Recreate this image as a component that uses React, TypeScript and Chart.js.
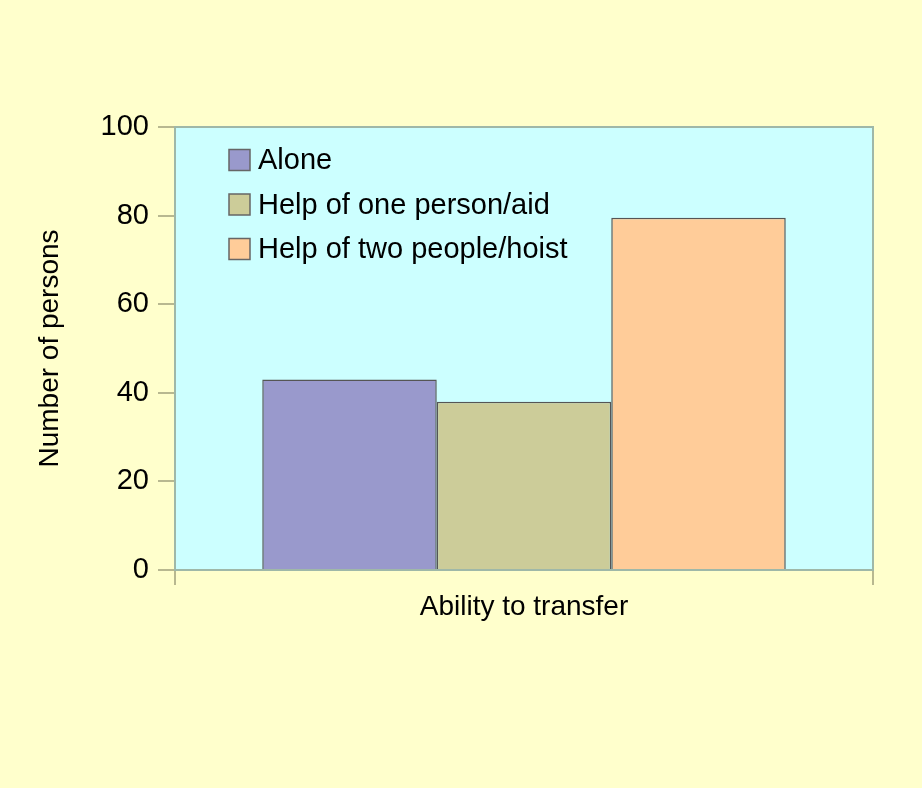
import React, { useEffect, useRef } from "react";
import { Chart, registerables } from "chart.js";

Chart.register(...registerables);

const categories = ["Ability to transfer"];
const seriesLabels = ["Alone", "Help of one person/aid", "Help of two people/hoist"];
const seriesValues = [43, 38, 79.5];
const seriesColors = ["#9999CC", "#CCCC99", "#FFCC99"];
const yTicks = [0, 20, 40, 60, 80, 100];

const FONT = "'Liberation Sans', Arial, sans-serif";

export default function App() {
  const ref = useRef<HTMLCanvasElement | null>(null);

  useEffect(() => {
    document.body.style.margin = "0";
    document.body.style.background = "#FFFFCC";
    const canvas = ref.current;
    if (!canvas) return;

    const bgPlugin = {
      id: "bgPlugin",
      beforeDraw(chart: any) {
        const { ctx, chartArea } = chart;
        ctx.save();
        ctx.fillStyle = "#FFFFCC";
        ctx.fillRect(0, 0, chart.width, chart.height);
        ctx.fillStyle = "#CCFFFF";
        ctx.fillRect(chartArea.left, chartArea.top, chartArea.right - chartArea.left, chartArea.bottom - chartArea.top);
        ctx.restore();
      },
      afterDraw(chart: any) {
        const { ctx, chartArea } = chart;
        ctx.save();
        ctx.strokeStyle = "#9FB8A8";
        ctx.lineWidth = 2;
        ctx.strokeRect(chartArea.left, chartArea.top, chartArea.right - chartArea.left, chartArea.bottom - chartArea.top);
        // legend
        const x0 = chartArea.left + 54;
        const y0 = chartArea.top + 33;
        const rowH = 44.5;
        const box = 21;
        ctx.font = `29px ${FONT}`;
        ctx.textBaseline = "middle";
        ctx.textAlign = "left";
        chart.data.datasets.forEach((ds: any, i: number) => {
          const cy = y0 + i * rowH;
          ctx.fillStyle = ds.backgroundColor;
          ctx.fillRect(x0, cy - box / 2, box, box);
          ctx.strokeStyle = "#666666";
          ctx.lineWidth = 1.5;
          ctx.strokeRect(x0, cy - box / 2, box, box);
          ctx.fillStyle = "#000000";
          ctx.fillText(ds.label, x0 + box + 8, cy + 1);
        });
        ctx.restore();
      },
    };

    const chart = new Chart(canvas, {
      type: "bar",
      data: {
        labels: categories,
        datasets: seriesLabels.map((label, i) => ({
          label,
          data: [seriesValues[i]],
          backgroundColor: seriesColors[i],
          borderColor: "#555555",
          borderWidth: 1.5,
          categoryPercentage: 0.75,
          barPercentage: 1.0,
        })),
      },
      options: {
        animation: false,
        responsive: false,
        devicePixelRatio: 1,
        layout: { padding: { top: 127, right: 49, left: 0, bottom: 0 } },
        plugins: {
          legend: { display: false },
          tooltip: { enabled: false },
        },
        scales: {
          x: {
            offset: true,
            grid: {
              offset: true,
              drawOnChartArea: false,
              drawTicks: true,
              tickLength: 15,
              color: "#B8B890",
              lineWidth: 2,
            },
            border: { display: false },
            ticks: { display: false },
            title: {
              display: true,
              text: "Ability to transfer",
              color: "#000000",
              font: { family: FONT, size: 28 },
              padding: { top: 0, bottom: 164 },
            },
            afterFit(scale: any) {
              scale.height = 218;
            },
          },
          y: {
            min: 0,
            max: 100,
            afterBuildTicks(scale: any) {
              scale.ticks = yTicks.map((v) => ({ value: v }));
            },
            grid: {
              drawOnChartArea: false,
              drawTicks: true,
              tickLength: 17,
              color: "#B8B890",
              lineWidth: 2,
            },
            border: { display: false },
            ticks: {
              color: "#000000",
              font: { family: FONT, size: 29 },
              padding: 9,
            },
            title: {
              display: true,
              text: "Number of persons",
              color: "#000000",
              font: { family: FONT, size: 28 },
              padding: { top: 33, bottom: 0 },
            },
            afterFit(scale: any) {
              scale.width = 175;
            },
          },
        },
      },
      plugins: [bgPlugin],
    });

    return () => chart.destroy();
  }, []);

  return (
    <div style={{ width: 922, height: 788, background: "#FFFFCC" }}>
      <canvas ref={ref} width={922} height={788} style={{ display: "block", width: 922, height: 788 }} />
    </div>
  );
}
